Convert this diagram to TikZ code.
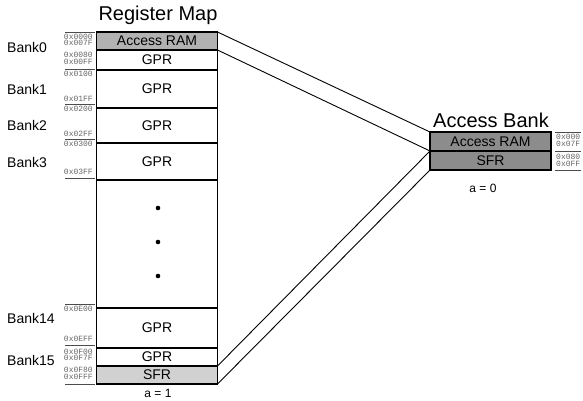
\documentclass[tikz,border=0pt]{standalone}
\usepackage{fontspec}
\setmainfont{Liberation Sans}
\newfontfamily\addrfont{Liberation Mono}
\begin{document}
\begin{tikzpicture}[x=1pt,y=-1pt,
  cell/.style={draw, line width=1.6pt, inner sep=0pt, outer sep=0pt,
    anchor=north west, minimum width=121pt, font=\fontsize{14}{14}\selectfont},
  shadeA/.style={fill=black!30},
  shadeB/.style={fill=black!18},
  shadeC/.style={fill=black!45},
  title/.style={font=\fontsize{20}{20}\selectfont, inner sep=0pt},
  bank/.style={font=\fontsize{14}{15}\selectfont, anchor=west, inner sep=0pt},
  addr/.style={font=\addrfont\fontsize{8}{8}\selectfont, text=black!60, inner sep=0pt},
  addrL/.style={addr, anchor=east},
  addrR/.style={addr, anchor=west},
  tick/.style={line width=0.8pt, black!70},
  link/.style={line width=0.9pt},
  sel/.style={font=\fontsize{12}{13}\selectfont, inner sep=0pt}]
\useasboundingbox (0,0) rectangle (583,400);

% register map column
\node[title] (rmt) at (158,15) {Register Map};
\node[cell, shadeA, minimum height=18pt]  (accL)  at (96.5,32)  {Access RAM};
\node[cell, minimum height=20pt]  (gpr0)  at (96.5,50)  {GPR};
\node[cell, minimum height=38pt]  (gpr1)  at (96.5,70)  {GPR};
\node[cell, minimum height=35pt]  (gpr2)  at (96.5,108) {GPR};
\node[cell, minimum height=37pt]  (gpr3)  at (96.5,143) {GPR};
\node[cell, minimum height=128pt] (gap)   at (96.5,180) {};
\node[cell, minimum height=40pt]  (gpr14) at (96.5,308) {GPR};
\node[cell, minimum height=18pt]  (gpr15) at (96.5,348) {GPR};
\node[cell, shadeB, minimum height=18pt]  (sfrL)  at (96.5,366) {SFR};
\node[sel] (a1) at (158,393) {a = 1};

\foreach \yy in {208,242,276} \fill (158,\yy) circle (2.3pt);

% bank labels
\node[bank] (b0)  at (7,47)  {Bank0};
\node[bank] (b1)  at (7,89)  {Bank1};
\node[bank] (b2)  at (7,125) {Bank2};
\node[bank] (b3)  at (7,162) {Bank3};
\node[bank] (b14) at (7,318) {Bank14};
\node[bank] (b15) at (7,360) {Bank15};

% address ranges of the register map
\foreach \yy in {32,69,104,139,178,304,345,384}
  \draw[tick] (65,\yy) -- (95,\yy);
\node[addrL] at (93,36.5)  {0x0000};
\node[addrL] at (93,43)    {0x007F};
\node[addrL] at (93,54.5)  {0x0080};
\node[addrL] at (93,61.5)  {0x00FF};
\node[addrL] at (93,74)    {0x0100};
\node[addrL] at (93,99)    {0x01FF};
\node[addrL] at (93,108.5) {0x0200};
\node[addrL] at (93,134)   {0x02FF};
\node[addrL] at (93,143.5) {0x0300};
\node[addrL] at (93,172)   {0x03FF};
\node[addrL] at (93,308.5) {0x0E00};
\node[addrL] at (93,339)   {0x0EFF};
\node[addrL] at (93,351.5) {0x0F00};
\node[addrL] at (93,358)   {0x0F7F};
\node[addrL] at (93,369.5) {0x0F80};
\node[addrL] at (93,376.5) {0x0FFF};

% access bank
\node[title] (abt) at (491,120) {Access Bank};
\node[cell, shadeC, minimum height=19pt] (accR) at (430,132) {Access RAM};
\node[cell, shadeC, minimum height=19pt] (sfrR) at (430,151) {SFR};
\node[sel] (a0) at (483,188) {a = 0};

\foreach \yy in {132,151,170}
  \draw[tick] (555,\yy) -- (581,\yy);
\node[addrR] at (556,137) {0x000};
\node[addrR] at (556,143.5) {0x07F};
\node[addrR] at (556,157) {0x080};
\node[addrR] at (556,163.5) {0x0FF};

% mapping lines
\draw[link] (accL.north east) -- (accR.north west);
\draw[link] (accL.south east) -- (accR.south west);
\draw[link] (sfrL.north east) -- (sfrR.north west);
\draw[link] (sfrL.south east) -- (sfrR.south west);
\end{tikzpicture}
\end{document}
